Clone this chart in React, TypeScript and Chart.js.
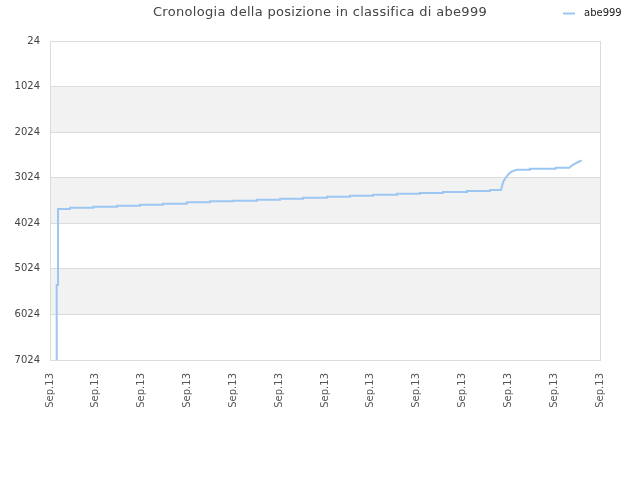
import { useEffect, useRef } from 'react';
import { Chart, registerables } from 'chart.js';

Chart.register(...registerables);

const TITLE = 'Cronologia della posizione in classifica di abe999';
const SERIES_NAME = 'abe999';
const LINE_COLOR = '#9cc7f2';

// x positions in "day ticks" (0 = first Sep.13 tick, 12 = last one)
const xTickValues = [0, 1, 2, 3, 4, 5, 6, 7, 8, 9, 10, 11, 12];
const xTickLabel = 'Sep.13';
const yTickValues = [24, 1024, 2024, 3024, 4024, 5024, 6024, 7024];

// vertices of the ranking line
const timePoints = [
  0.146, 0.146, 0.175, 0.175, 0.436, 0.436, 0.945, 0.945, 1.462, 1.462,
  1.964, 1.964, 2.465, 2.465, 2.983, 2.983, 3.491, 3.491, 3.993, 3.993,
  4.516, 4.516, 5.018, 5.018, 5.52, 5.52, 6.044, 6.044, 6.545, 6.545,
  7.047, 7.047, 7.571, 7.571, 8.073, 8.073, 8.575, 8.575, 9.098, 9.098,
  9.6, 9.6, 9.84, 9.89, 9.943, 10.0, 10.058, 10.124, 10.183, 10.473,
  10.473, 11.034, 11.034, 11.33, 11.383, 11.455, 11.527, 11.6,
];
const rankPoints = [
  7024, 5378, 5378, 3711, 3711, 3682, 3682, 3660, 3660, 3638,
  3638, 3616, 3616, 3594, 3594, 3564, 3564, 3542, 3542, 3528,
  3528, 3506, 3506, 3485, 3485, 3463, 3463, 3441, 3441, 3419,
  3419, 3399, 3399, 3377, 3377, 3357, 3357, 3335, 3335, 3313,
  3313, 3291, 3291, 3111, 3024, 2949, 2898, 2870, 2848, 2848,
  2826, 2826, 2804, 2804, 2760, 2716, 2679, 2642,
];

// grey bands between every other pair of y ticks
const bandsPlugin = {
  id: 'bands',
  beforeDraw(chart: Chart) {
    const { ctx, chartArea, scales } = chart;
    const y = scales.y;
    ctx.save();
    ctx.fillStyle = '#f2f2f2';
    for (let i = 1; i + 1 < yTickValues.length; i += 2) {
      const top = y.getPixelForValue(yTickValues[i]);
      const bottom = y.getPixelForValue(yTickValues[i + 1]);
      ctx.fillRect(chartArea.left, top, chartArea.right - chartArea.left, bottom - top);
    }
    ctx.restore();
  },
  beforeDatasetsDraw(chart: Chart) {
    const { ctx, chartArea } = chart;
    ctx.save();
    ctx.strokeStyle = '#dcdcdc';
    ctx.lineWidth = 1;
    ctx.strokeRect(
      Math.round(chartArea.left) + 0.5,
      Math.round(chartArea.top) + 0.5,
      Math.round(chartArea.right - chartArea.left),
      Math.round(chartArea.bottom - chartArea.top),
    );
    ctx.restore();
  },
};

// title and legend share one row at the top
const headerPlugin = {
  id: 'header',
  afterDraw(chart: Chart) {
    const { ctx } = chart;
    ctx.save();
    ctx.textBaseline = 'middle';
    ctx.font = '13px "DejaVu Sans"';
    ctx.letterSpacing = '0.3px';
    ctx.fillStyle = '#444';
    ctx.textAlign = 'center';
    ctx.fillText(TITLE, 320, 12.5);
    ctx.letterSpacing = '0px';

    ctx.strokeStyle = LINE_COLOR;
    ctx.lineWidth = 2;
    ctx.beginPath();
    ctx.moveTo(563, 13.5);
    ctx.lineTo(575, 13.5);
    ctx.stroke();
    ctx.font = '10px "DejaVu Sans"';
    ctx.fillStyle = '#222';
    ctx.textAlign = 'left';
    ctx.fillText(SERIES_NAME, 584, 13);
    ctx.restore();
  },
};

export default function App() {
  const canvasRef = useRef<HTMLCanvasElement>(null);
  const chartRef = useRef<Chart | null>(null);

  useEffect(() => {
    chartRef.current?.destroy();
    if (!canvasRef.current) return undefined;

    chartRef.current = new Chart(canvasRef.current, {
      type: 'line',
      data: {
        datasets: [
          {
            label: SERIES_NAME,
            data: timePoints.map((x, i) => ({ x, y: rankPoints[i] })),
            borderColor: LINE_COLOR,
            borderWidth: 2,
            pointRadius: 0,
            tension: 0,
            fill: false,
          },
        ],
      },
      options: {
        animation: false,
        responsive: false,
        maintainAspectRatio: false,
        layout: { padding: { top: 41, right: 40, left: 0, bottom: 0 } },
        plugins: {
          legend: { display: false },
          title: { display: false },
          tooltip: { enabled: false },
        },
        scales: {
          x: {
            type: 'linear',
            min: 0,
            max: 12,
            afterBuildTicks: scale => {
              scale.ticks = xTickValues.map(value => ({ value }));
            },
            afterFit: scale => {
              scale.height = 120;
            },
            grid: { display: false },
            border: { display: false },
            ticks: {
              callback: () => xTickLabel,
              minRotation: 90,
              maxRotation: 90,
              padding: 5,
              color: '#555',
              font: { family: '"DejaVu Sans"', size: 10 },
              autoSkip: false,
            },
          },
          y: {
            type: 'linear',
            reverse: true,
            min: 24,
            max: 7024,
            afterBuildTicks: scale => {
              scale.ticks = yTickValues.map(value => ({ value }));
            },
            afterFit: scale => {
              scale.width = 50;
            },
            grid: { color: '#dcdcdc', drawTicks: false },
            border: { display: false },
            ticks: {
              callback: value => String(value),
              padding: 10,
              color: '#444',
              font: { family: '"DejaVu Sans"', size: 10 },
            },
          },
        },
      },
      plugins: [bandsPlugin, headerPlugin],
    });

    return () => {
      chartRef.current?.destroy();
      chartRef.current = null;
    };
  }, []);

  return (
    <div style={{ position: 'fixed', left: 0, top: 0, width: 640, height: 480, background: '#fff' }}>
      <canvas ref={canvasRef} width={640} height={480} style={{ width: 640, height: 480 }} />
    </div>
  );
}
